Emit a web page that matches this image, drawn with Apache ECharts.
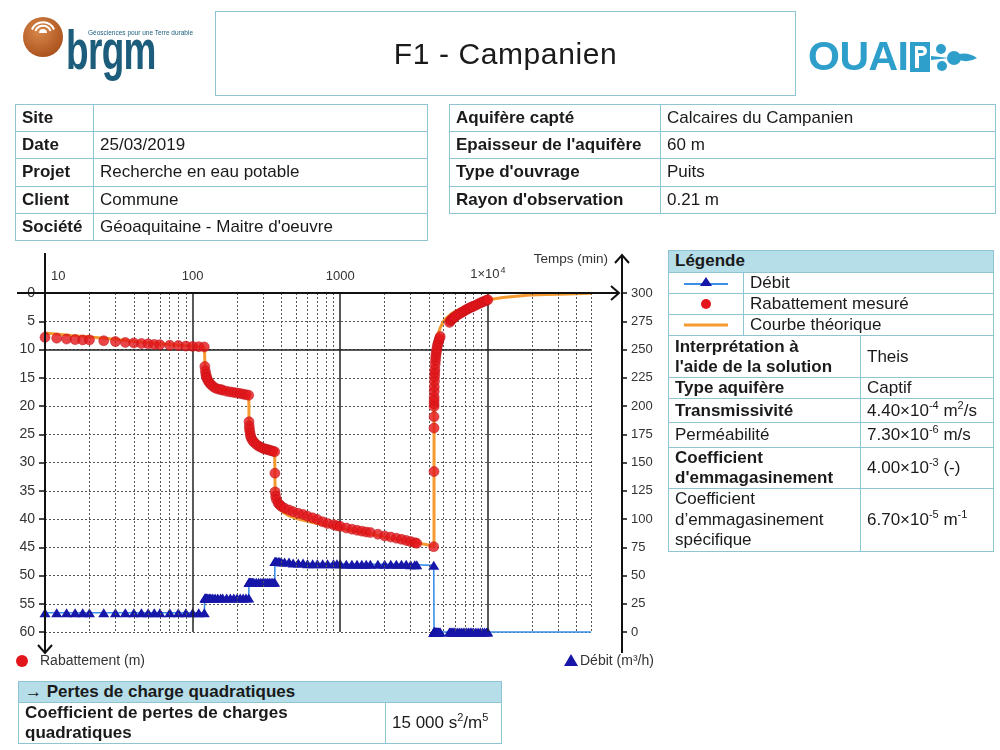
<!DOCTYPE html>
<html><head><meta charset="utf-8">
<script src="https://cdn.jsdelivr.net/npm/echarts@6/dist/echarts.min.js"></script>
<style>
html,body{margin:0;padding:0;background:#fff;}
body{width:1000px;height:750px;position:relative;overflow:hidden;font-family:"Liberation Sans",Arial,Helvetica,sans-serif;color:#1a1a1a;}
#chart{position:absolute;left:0;top:0;width:1000px;height:750px;}
table.t{position:absolute;border-collapse:collapse;table-layout:fixed;font-size:17px;}
table.t td{border:1.6px solid #8fc5d3;padding:0 0 0 6px;white-space:nowrap;overflow:hidden;line-height:20px;vertical-align:middle;}
.b{font-weight:bold;}
.hd{background:#b6dee8;}
sup{font-size:11px;line-height:0;vertical-align:7px;}
#title{position:absolute;left:215px;top:11px;width:579px;height:83px;border:1.6px solid #8fc5d3;text-align:center;line-height:83px;font-size:30px;letter-spacing:0.6px;color:#1a1a1a;}
#brgmtxt{position:absolute;left:66px;top:18px;font-size:56px;font-weight:bold;color:#1d5d7c;transform:scaleX(0.66);transform-origin:left top;letter-spacing:-1px;line-height:64px;}
#tag{position:absolute;left:88px;top:29px;font-size:6.5px;color:#1d5d7c;white-space:nowrap;}
#ouai{position:absolute;left:808px;top:30px;font-size:41px;font-weight:bold;color:#2e9fcb;line-height:52px;letter-spacing:-0.5px;}
.sym{text-align:center;padding:0!important;}
</style></head>
<body>
<div id="chart"></div>

<svg style="position:absolute;left:0;top:0" width="80" height="80">
  <defs><radialGradient id="rg" cx="40%" cy="35%" r="70%"><stop offset="0" stop-color="#d9884a"/><stop offset="1" stop-color="#a9501c"/></radialGradient></defs>
  <circle cx="43" cy="37" r="20" fill="url(#rg)"/>
  <path d="M39 33 A4 4 0 0 1 47 33 Z" fill="#fff"/>
  <path d="M35.5 31 A8 8 0 0 1 50.5 31" stroke="#fff" stroke-width="2" fill="none"/>
  <path d="M32 29.5 A12 12 0 0 1 54 29.5" stroke="#fff" stroke-width="2" fill="none"/>
</svg>
<div id="tag">Géosciences pour une Terre durable</div>
<div id="brgmtxt">brgm</div>

<div id="title">F1 - Campanien</div>

<div id="ouai">OUAI</div>
<svg style="position:absolute;left:905px;top:36px" width="90" height="44">
  <rect x="5" y="6" width="20" height="30" fill="#2e9fcb"/>
  <path d="M10 10 h7 a5 5 0 0 1 0 10 h-3 v12 h-4 Z" fill="#fff"/>
  <path d="M13 14 h4 a1.5 1.5 0 0 1 0 3 h-4 Z" fill="#2e9fcb"/>
  <circle cx="36" cy="13" r="5" fill="#2e9fcb"/>
  <circle cx="49" cy="22" r="7" fill="#2e9fcb"/>
  <circle cx="37" cy="30" r="5" fill="#2e9fcb"/>
  <path d="M26 20 L44 22 L26 24 Z" fill="#2e9fcb"/>
  <path d="M54 18 q10 -2 18 4 q-8 5 -18 2 Z" fill="#2e9fcb"/>
</svg>

<table class="t" style="left:15px;top:104px;width:413px;">
<colgroup><col style="width:78px"><col></colgroup>
<tr style="height:27.2px"><td class="b">Site</td><td></td></tr>
<tr style="height:27.2px"><td class="b">Date</td><td>25/03/2019</td></tr>
<tr style="height:27.2px"><td class="b">Projet</td><td>Recherche en eau potable</td></tr>
<tr style="height:27.2px"><td class="b">Client</td><td>Commune</td></tr>
<tr style="height:27.2px"><td class="b">Société</td><td>Géoaquitaine - Maitre d'oeuvre</td></tr>
</table>

<table class="t" style="left:449px;top:104px;width:547px;">
<colgroup><col style="width:211px"><col></colgroup>
<tr style="height:27.2px"><td class="b">Aquifère capté</td><td>Calcaires du Campanien</td></tr>
<tr style="height:27.2px"><td class="b">Epaisseur de l'aquifère</td><td>60 m</td></tr>
<tr style="height:27.2px"><td class="b">Type d'ouvrage</td><td>Puits</td></tr>
<tr style="height:27.2px"><td class="b">Rayon d'observation</td><td>0.21 m</td></tr>
</table>

<table class="t" style="left:668px;top:250px;width:326px;">
<colgroup><col style="width:75px"><col style="width:117px"><col></colgroup>
<tr style="height:21.7px" class="hd"><td colspan="3" class="b">Légende</td></tr>
<tr style="height:20px"><td class="sym"><svg width="50" height="14" style="display:block;margin:0 auto"><line x1="3" y1="8" x2="47" y2="8" stroke="#3b8fe8" stroke-width="2"/><polygon points="25,1 31,10 19,10" fill="#1616a8"/></svg></td><td colspan="2">Débit</td></tr>
<tr style="height:20px"><td class="sym"><svg width="50" height="14" style="display:block;margin:0 auto"><circle cx="25" cy="7" r="5" fill="#e3161c"/></svg></td><td colspan="2">Rabattement mesuré</td></tr>
<tr style="height:21.5px"><td class="sym"><svg width="50" height="14" style="display:block;margin:0 auto"><line x1="3" y1="7" x2="47" y2="7" stroke="#f59a30" stroke-width="3"/></svg></td><td colspan="2">Courbe théorique</td></tr>
<tr style="height:42px"><td colspan="2" class="b">Interprétation à<br>l'aide de la solution</td><td>Theis</td></tr>
<tr style="height:21px"><td colspan="2" class="b">Type aquifère</td><td>Captif</td></tr>
<tr style="height:24px"><td colspan="2" class="b">Transmissivité</td><td>4.40×10<sup>-4</sup> m<sup>2</sup>/s</td></tr>
<tr style="height:25px"><td colspan="2">Perméabilité</td><td>7.30×10<sup>-6</sup> m/s</td></tr>
<tr style="height:40px"><td colspan="2" class="b">Coefficient<br>d'emmagasinement</td><td>4.00×10<sup>-3</sup> (-)</td></tr>
<tr style="height:63px"><td colspan="2" style="line-height:20.5px">Coefficient<br>d’emmagasinement<br>spécifique</td><td>6.70×10<sup>-5</sup> m<sup>-1</sup></td></tr>
</table>

<table class="t" style="left:18px;top:681px;width:484px;">
<colgroup><col style="width:367px"><col></colgroup>
<tr style="height:21px" class="hd"><td colspan="2" class="b">→ Pertes de charge quadratiques</td></tr>
<tr style="height:41px"><td class="b">Coefficient de pertes de charges<br>quadratiques</td><td>15 000 s<sup>2</sup>/m<sup>5</sup></td></tr>
</table>

<script>
// ---------- Data ----------
const tFin = 50000; // fin de l'axe des temps (min)

// Temps de mesure (min)
const temps = [
  10,12,14,16,18,20,25,30,35,40,45,50,55,60,70,80,90,100,110,120,
  121,122,123,124,125,127,130,133,137,142,148,155,160,170,180,190,200,210,220,230,240,
  241,242,243,245,247,250,255,260,270,280,290,300,310,320,330,340,350,360,361,
  362,365,370,380,390,400,420,450,480,520,560,600,650,700,760,820,900,950,1000,1100,1200,1300,1400,1500,1600,1800,2000,2200,2400,2600,2800,3000,3200,3300,4300,
  4321,4323,4324,4325,4326,4328,4330,4335,4340,4350,4360,4370,4380,4400,4420,4440,4460,4490,4520,4560,4600,4650,4700,4760,
  5500,5600,5700,5800,5900,6000,6200,6400,6600,6800,7000,7200,7400,7600,7800,8000,8300,8600,8900,9200,9500,9800,10000
];
// Rabattement mesuré (m)
const rabattement = [
  7.85,8.0,8.15,8.25,8.3,8.3,8.45,8.6,8.75,8.85,8.95,9.0,9.1,9.15,9.25,9.3,9.4,9.45,9.5,9.55,
  13.0,13.8,14.4,14.8,15.1,15.5,15.9,16.2,16.5,16.8,17.0,17.1,17.2,17.4,17.5,17.6,17.7,17.8,17.9,18.0,18.1,
  22.8,23.6,24.2,24.8,25.3,25.7,26.1,26.4,26.8,27.1,27.3,27.5,27.6,27.7,27.8,27.9,28.0,28.1,31.9,
  35.2,36.0,36.6,37.2,37.5,37.8,38.1,38.4,38.7,39.0,39.2,39.5,39.8,40.1,40.5,40.8,41.0,41.2,41.3,41.6,41.8,42.0,42.15,42.3,42.4,42.7,43.0,43.2,43.4,43.6,43.8,44.0,44.2,44.3,44.9,
  31.6,23.9,21.9,20.1,19.6,19.0,18.4,17.4,16.6,15.6,14.8,14.1,13.5,12.6,11.9,11.3,10.8,10.3,9.8,9.3,8.9,8.5,8.1,7.7,
  5.2,4.9,4.7,4.5,4.35,4.2,3.9,3.7,3.5,3.3,3.1,2.9,2.75,2.6,2.45,2.35,2.15,1.95,1.75,1.6,1.45,1.3,1.2
];
// Débit (m3/h)
const debit = [
  17,17,17,17,17,17,17,17,17,17,17,17,17,17,17,17,17,17,17,17,
  30,30,30,30,30,30,30,30,30,30,30,30,30,30,30,30,30,30,30,30,30,
  44,44,44,44,44,44,44,44,44,44,44,44,44,44,44,44,44,44,62.5,
  62.5,62.5,62.5,62.5,62.5,62,62,62,61,61,61,60.5,60.5,60.5,60.5,60.5,60.5,60.5,60.5,60,60,60,60,60,60,60,60,60,60,60,60,59.5,59.5,59.5,59,
  0,0,0,0,0,0,0,0,0,0,0,0,0,0,0,0,0,0,0,0,0,0,0,0,
  0,0,0,0,0,0,0,0,0,0,0,0,0,0,0,0,0,0,0,0,0,0,0
];
// Courbe théorique (Theis)
const tTheo = [10,15,23,30,45,60,90,120,
  120.5,121,122,123,125,128,133,140,150,170,200,240,
  240.5,241,242,244,247,252,260,275,300,330,360,
  360.5,361,362,364,368,380,410,455,520,600,700,800,1000,1300,1700,2200,3000,3800,4320,
  4320.5,4321,4323,4326,4335,4350,4380,4420,4500,4600,4750,5000,5300,5700,6500,7500,8500,10000,12700,15000,19300,25000,30800,40000,50000];
const sTheo = [7.1,7.5,7.9,8.2,8.7,9.0,9.35,9.55,
  10.5,12.2,13.2,13.9,14.7,15.3,15.9,16.4,16.8,17.3,17.7,18.1,
  19.5,22.0,23.2,24.2,25.0,25.7,26.2,26.8,27.3,27.7,28.1,
  30.0,32.5,34.0,35.5,36.6,37.8,38.8,39.5,40.0,40.4,40.8,41.1,41.6,42.2,42.8,43.4,44.0,44.5,44.8,
  36.0,30.0,22.0,18.5,15.5,13.5,11.5,10.0,8.5,7.3,6.2,5.0,4.3,3.6,2.8,2.1,1.7,1.2,0.8,0.6,0.35,0.25,0.2,0.12,0.05];

// Axes / grille
const gridMinor = [20,30,40,50,60,70,80,90,200,300,400,500,600,700,800,900,2000,3000,4000,5000,6000,7000,8000,9000,20000,30000,40000,50000];
const gridMajor = [100,1000,10000];
const rabMajorLine = [10];

// ---------- Chart ----------
const FONT = '"Liberation Sans", Arial, sans-serif';
const chart = echarts.init(document.getElementById('chart'), null, {renderer:'canvas'});
const minorStyle = {color:'#555', width:1, type:[2,2]};
const majorStyle = {color:'#222', width:1.5, type:'solid'};

const debitData = temps.map((t,i)=>[t, debit[i]]);
debitData.push({value:[tFin, 0], symbol:'none'});

const option = {
  animation:false,
  backgroundColor:'transparent',
  textStyle:{fontFamily:FONT},
  grid:{left:45, right:409, top:293, bottom:118, containLabel:false},
  xAxis:{
    type:'log', logBase:10, min:10, max:tFin, position:'top',
    axisLine:{show:false}, axisTick:{show:false}, splitLine:{show:false},
    axisLabel:{
      margin:10, fontSize:13, color:'#333', fontFamily:FONT, alignMinLabel:'left',
      formatter:function(v){
        const e = Math.log10(v);
        if (Math.abs(e-Math.round(e))>1e-6) return '';
        const n = Math.round(e);
        if (n>=4) return '1×10{sup|'+n+'}';
        if (n===1) return '{m|10}';
        return String(Math.round(Math.pow(10,n)));
      },
      rich:{sup:{fontSize:9, color:'#333', padding:[0,0,8,1], fontFamily:FONT},
            m:{fontSize:13, color:'#333', padding:[0,0,0,6], fontFamily:FONT}}
    }
  },
  yAxis:[
    {type:'value', inverse:true, min:0, max:60, interval:5, position:'left',
     axisLine:{show:false},
     axisTick:{show:true, length:6, lineStyle:{color:'#111', width:1.5}},
     axisLabel:{margin:10, fontSize:14, color:'#333', fontFamily:FONT},
     splitLine:{show:true, lineStyle:minorStyle}},
    {type:'value', min:0, max:300, interval:25, position:'right', offset:31,
     axisLine:{show:false},
     axisTick:{show:true, length:5, lineStyle:{color:'#111', width:1.5}},
     axisLabel:{margin:9, fontSize:13, color:'#333', fontFamily:FONT},
     splitLine:{show:false}}
  ],
  series:[
    {type:'line', name:'grille', data:[], xAxisIndex:0, yAxisIndex:0, z:1, silent:true,
     markLine:{silent:true, symbol:'none', animation:false, label:{show:false}, emphasis:{disabled:true},
       data: gridMinor.map(v=>({xAxis:v, lineStyle:minorStyle}))
             .concat(gridMajor.map(v=>({xAxis:v, lineStyle:majorStyle})))
             .concat(rabMajorLine.map(v=>({yAxis:v, lineStyle:majorStyle})))}},
    {type:'line', name:'Courbe théorique', yAxisIndex:0, z:3,
     data:tTheo.map((t,i)=>[t,sTheo[i]]), symbol:'none', showSymbol:false,
     lineStyle:{color:'#f59a30', width:3}},
    {type:'line', name:'Débit', yAxisIndex:1, z:4, clip:false,
     data:debitData, symbol:'triangle', symbolSize:[11,9], showAllSymbol:true,
     itemStyle:{color:'#1616a8'}, lineStyle:{color:'#3b8fe8', width:1.6}},
    {type:'scatter', name:'Rabattement mesuré', yAxisIndex:0, z:5, clip:false,
     data:temps.map((t,i)=>[t, rabattement[i]]), symbolSize:10,
     itemStyle:{color:'#e3161c', borderColor:'#b81016', borderWidth:0.6}}
  ]
};
chart.setOption(option);

const tl = chart.convertToPixel({xAxisIndex:0, yAxisIndex:0}, [10, 0]);
const br = chart.convertToPixel({xAxisIndex:0, yAxisIndex:0}, [tFin, 60]);
const xL = tl[0], yT = tl[1], xR = br[0], yB = br[1];
const xRA = xR + 31;
const ax = {stroke:'#111', lineWidth:2, fill:null};
chart.setOption({graphic:[
  {type:'line', z:20, shape:{x1:xL-28, y1:yT, x2:xRA-3, y2:yT}, style:ax},
  {type:'polyline', z:20, shape:{points:[[xRA-11,yT-7],[xRA-3,yT],[xRA-11,yT+7]]}, style:ax},
  {type:'line', z:20, shape:{x1:xL, y1:yT-40, x2:xL, y2:yB+21}, style:ax},
  {type:'polyline', z:20, shape:{points:[[xL-7,yB+13],[xL,yB+21],[xL+7,yB+13]]}, style:ax},
  {type:'line', z:20, shape:{x1:xRA, y1:yB+21, x2:xRA, y2:yT-38}, style:ax},
  {type:'polyline', z:20, shape:{points:[[xRA-7,yT-30],[xRA,yT-38],[xRA+7,yT-30]]}, style:ax},
  {type:'text', z:20, x:xRA-14, y:yT-34, style:{text:'Temps (min)', font:'13.5px '+FONT, fill:'#333', align:'right', verticalAlign:'middle'}},
  {type:'circle', z:20, shape:{cx:22, cy:yB+29, r:6}, style:{fill:'#e3161c'}},
  {type:'text', z:20, x:40, y:yB+29, style:{text:'Rabattement (m)', font:'14px '+FONT, fill:'#333', align:'left', verticalAlign:'middle'}},
  {type:'polygon', z:20, shape:{points:[[571,yB+22],[578,yB+34],[564,yB+34]]}, style:{fill:'#1616a8'}},
  {type:'text', z:20, x:580, y:yB+29, style:{text:'Débit (m³/h)', font:'14px '+FONT, fill:'#333', align:'left', verticalAlign:'middle'}}
]});
</script>
</body></html>
